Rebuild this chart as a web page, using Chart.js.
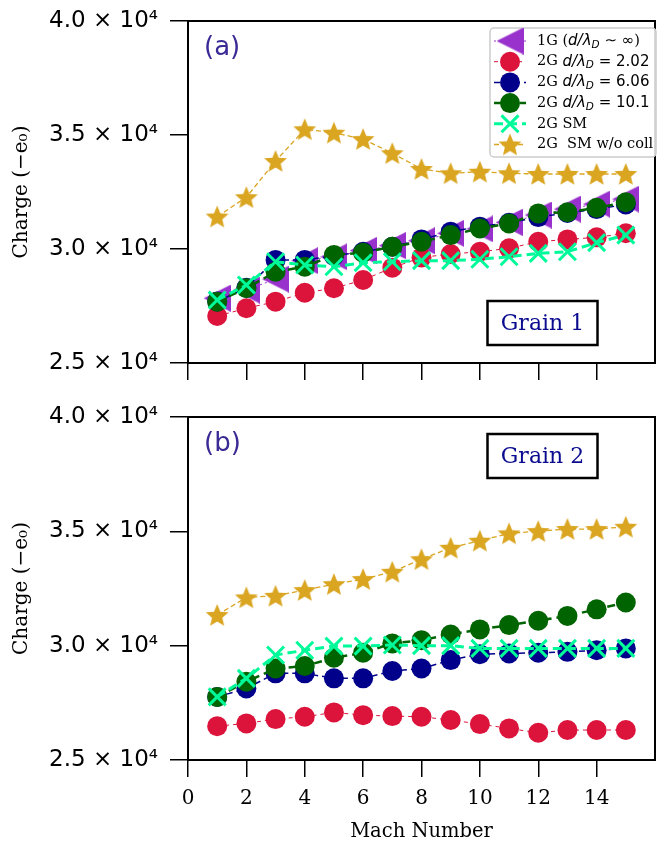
<!DOCTYPE html>
<html>
<head>
<meta charset="utf-8">
<script src="https://cdn.jsdelivr.net/npm/chart.js@4.4.1/dist/chart.umd.min.js"></script>
<style>
  body { margin: 0; background: #fff; width: 670px; height: 844px; position: relative; overflow: hidden; }
  canvas { position: absolute; left: 0; }
  #chartA { top: 0; }
  #chartB { top: 400px; }
</style>
</head>
<body>
<canvas id="chartA" width="670" height="400"></canvas>
<canvas id="chartB" width="670" height="444"></canvas>
<script>
// mach numbers (x)
const mach = [1, 2, 3, 4, 5, 6, 7, 8, 9, 10, 11, 12, 13, 14, 15];
const xTicks = [0, 2, 4, 6, 8, 10, 12, 14];
const yTicks = [25000, 30000, 35000, 40000];

// grain 1 charge (-e0)
const g1_1G   = [27840, 28200, 28680, 29490, 29660, 29930, 30150, 30360, 30690, 30880, 31170, 31490, 31750, 31970, 32190];
const g1_d202 = [27060, 27400, 27690, 28080, 28280, 28640, 29180, 29630, 29780, 29880, 30030, 30320, 30420, 30510, 30690];
const g1_d606 = [27700, 28300, 29520, 29520, 29700, 29880, 30100, 30420, 30760, 30980, 31150, 31400, 31580, 31750, 31950];
const g1_d101 = [27690, 28280, 29000, 29220, 29740, 29840, 30100, 30320, 30610, 30900, 31120, 31560, 31610, 31810, 32050];
const g1_SM   = [27760, 28420, 29440, 29300, 29220, 29400, 29440, 29490, 29490, 29550, 29660, 29810, 29880, 30280, 30610];
const g1_SMnc = [31420, 32270, 33860, 35250, 35100, 34820, 34200, 33510, 33320, 33390, 33320, 33290, 33290, 33290, 33290];

// grain 2 charge (-e0)
const g2_d202 = [26480, 26600, 26790, 26890, 27080, 26960, 26920, 26890, 26750, 26570, 26380, 26190, 26310, 26310, 26310];
const g2_d606 = [27760, 28130, 28790, 28790, 28570, 28570, 28890, 29000, 29370, 29630, 29660, 29690, 29730, 29800, 29880];
const g2_d101 = [27760, 28420, 29000, 29110, 29470, 29690, 30100, 30240, 30490, 30710, 30900, 31090, 31300, 31590, 31890];
const g2_SM   = [27760, 28570, 29590, 29800, 29980, 29980, 30030, 30000, 30000, 29880, 29880, 29880, 29880, 29880, 29880];
const g2_SMnc = [31340, 32110, 32180, 32430, 32690, 32910, 33230, 33780, 34280, 34590, 34910, 35010, 35100, 35100, 35200];

const serif = '"DejaVu Serif", "Liberation Serif", serif';
const sans = '"DejaVu Sans", sans-serif';

function starImg(color, r) {
  const s = Math.ceil(r * 2 + 2);
  const c = document.createElement('canvas');
  c.width = s; c.height = s;
  const g = c.getContext('2d');
  g.fillStyle = color;
  g.beginPath();
  for (let i = 0; i < 10; i++) {
    const rr = i % 2 ? r * 0.45 : r;
    const a = -Math.PI / 2 + i * Math.PI / 5;
    g.lineTo(s / 2 + rr * Math.cos(a), s / 2 + 1 + rr * Math.sin(a));
  }
  g.closePath();
  g.fill();
  return c;
}

function triLeftImg(color, h) {
  const c = document.createElement('canvas');
  c.width = h; c.height = h;
  const g = c.getContext('2d');
  g.fillStyle = color;
  g.beginPath();
  g.moveTo(0, h / 2);
  g.lineTo(h, 0);
  g.lineTo(h, h);
  g.closePath();
  g.fill();
  return c;
}

const starMark = starImg('#daa520', 12);
const triMark = triLeftImg('#9932cc', 27);

function series(label, parts, vals, color, marker, lw, dash, order) {
  const ds = {
    label: label,
    labelParts: parts,
    data: mach.map((m, i) => ({ x: m, y: vals[i] })),
    borderColor: color,
    backgroundColor: color,
    borderWidth: lw,
    borderDash: dash,
    pointBackgroundColor: color,
    pointBorderColor: color,
    order: order,
    marker: marker
  };
  if (marker === 'circle') {
    ds.pointStyle = 'circle'; ds.pointRadius = 10; ds.pointBorderWidth = 0;
  } else if (marker === 'x') {
    ds.pointStyle = 'crossRot'; ds.pointRadius = 12; ds.pointBorderWidth = 3;
  } else if (marker === 'star') {
    ds.pointStyle = starMark; ds.pointRadius = 12;
  } else {
    ds.pointStyle = triMark; ds.pointRadius = 13;
  }
  return ds;
}

const fSerif = '14.5px ' + serif;
const fIt = 'oblique 15px ' + sans;
const fSub = 'oblique 10.5px ' + sans;
const fRm = '15px ' + sans;
function dParts(pre, val) {
  return [[pre, fSerif, 0], ['d/λ', fIt, 0], ['D', fSub, 4], [' = ' + val, fRm, 0]];
}

function panelA() {
  return [
    series('1G (d/λD ~ ∞)', [['1G (', fSerif, 0], ['d/λ', fIt, 0], ['D', fSub, 4], [' ∼ ∞', fRm, 0], [')', fSerif, 0]],
      g1_1G, '#9932cc', 'tri', 1, [2, 3], 6),
    series('2G d/λD = 2.02', dParts('2G ', '2.02'), g1_d202, '#dc143c', 'circle', 1, [4, 4], 5),
    series('2G d/λD = 6.06', dParts('2G ', '6.06'), g1_d606, '#00008b', 'circle', 1.5, [6, 4], 4),
    series('2G d/λD = 10.1', dParts('2G ', '10.1'), g1_d101, '#006400', 'circle', 2.5, [8, 5], 3),
    series('2G SM', [['2G SM', fSerif, 0]], g1_SM, '#00fa9a', 'x', 3, [9, 5], 2),
    series('2G  SM w/o coll', [['2G  SM w/o coll', fSerif, 0]], g1_SMnc, '#daa520', 'star', 1.3, [5, 3], 1)
  ];
}
function panelB() {
  return [
    series('2G d/λD = 2.02', dParts('2G ', '2.02'), g2_d202, '#dc143c', 'circle', 1, [4, 4], 5),
    series('2G d/λD = 6.06', dParts('2G ', '6.06'), g2_d606, '#00008b', 'circle', 1.5, [6, 4], 4),
    series('2G d/λD = 10.1', dParts('2G ', '10.1'), g2_d101, '#006400', 'circle', 2.5, [8, 5], 3),
    series('2G SM', [['2G SM', fSerif, 0]], g2_SM, '#00fa9a', 'x', 3, [9, 5], 2),
    series('2G  SM w/o coll', [['2G  SM w/o coll', fSerif, 0]], g2_SMnc, '#daa520', 'star', 1.3, [5, 3], 1)
  ];
}

function drawMarker(ctx, ds, x, y) {
  if (ds.marker === 'circle') {
    ctx.fillStyle = ds.backgroundColor;
    ctx.beginPath(); ctx.arc(x, y, 10, 0, Math.PI * 2); ctx.fill();
  } else if (ds.marker === 'x') {
    const d = 12 * Math.SQRT1_2;
    ctx.strokeStyle = ds.borderColor; ctx.lineWidth = 3; ctx.setLineDash([]);
    ctx.beginPath();
    ctx.moveTo(x - d, y - d); ctx.lineTo(x + d, y + d);
    ctx.moveTo(x - d, y + d); ctx.lineTo(x + d, y - d);
    ctx.stroke();
  } else {
    const img = ds.pointStyle;
    ctx.drawImage(img, x - img.width / 2, y - img.height / 2);
  }
}

// legend with math-style labels
const richLegend = {
  id: 'richLegend',
  afterDraw(chart, args, o) {
    if (!o.show) return;
    const ctx = chart.ctx;
    ctx.save();
    const bx = 490, by = 28, bw = 166, bh = 129;
    ctx.beginPath();
    ctx.roundRect(bx, by, bw, bh, 4);
    ctx.fillStyle = 'rgba(255,255,255,0.85)';
    ctx.fill();
    ctx.strokeStyle = '#cccccc'; ctx.lineWidth = 1.5;
    ctx.stroke();
    chart.data.datasets.forEach((ds, i) => {
      const y = by + 13 + i * 20.7;
      ctx.strokeStyle = ds.borderColor;
      ctx.lineWidth = ds.borderWidth;
      ctx.setLineDash(ds.borderDash);
      ctx.beginPath(); ctx.moveTo(494, y); ctx.lineTo(526, y); ctx.stroke();
      ctx.setLineDash([]);
      drawMarker(ctx, ds, 510, y);
      let x = 537;
      ctx.fillStyle = '#000';
      ctx.textBaseline = 'middle';
      ctx.textAlign = 'left';
      ds.labelParts.forEach(p => {
        ctx.font = p[1];
        ctx.fillText(p[0], x, y + p[2]);
        x += ctx.measureText(p[0]).width;
      });
    });
    ctx.restore();
  }
};

// frame, panel letter, grain box
const notes = {
  id: 'notes',
  afterDraw(chart, args, o) {
    const ctx = chart.ctx;
    const a = chart.chartArea;
    ctx.save();
    ctx.strokeStyle = '#000';
    ctx.lineWidth = 2;
    ctx.strokeRect(a.left, a.top, a.right - a.left, a.bottom - a.top);
    ctx.fillStyle = '#3a2a96';
    ctx.font = '26px ' + sans;
    ctx.textBaseline = 'middle';
    ctx.textAlign = 'left';
    ctx.fillText(o.panel, a.left + 16, a.top + 27);
    const gx = 487.5, gy = a.top + o.boxTop, gw = 110, gh = 44;
    ctx.fillStyle = '#fff';
    ctx.fillRect(gx, gy, gw, gh);
    ctx.lineWidth = 2.5;
    ctx.strokeRect(gx, gy, gw, gh);
    ctx.fillStyle = '#0b0b8f';
    ctx.font = '22px ' + serif;
    ctx.textAlign = 'center';
    ctx.fillText(o.grain, gx + gw / 2, gy + gh / 2 + 1);
    ctx.restore();
  }
};

function makeChart(id, datasets, cfg) {
  return new Chart(document.getElementById(id), {
    type: 'line',
    data: { datasets: datasets },
    plugins: [notes, richLegend],
    options: {
      responsive: false,
      animation: false,
      layout: { padding: { top: cfg.top, right: 8, left: 0, bottom: 0 } },
      plugins: {
        legend: { display: false },
        tooltip: { enabled: false },
        notes: { panel: cfg.panel, grain: cfg.grain, boxTop: cfg.boxTop },
        richLegend: { show: cfg.legend }
      },
      scales: {
        x: {
          type: 'linear',
          min: 0,
          max: 16,
          afterBuildTicks: s => { s.ticks = xTicks.map(v => ({ value: v })); },
          afterFit: s => { s.height = cfg.xHeight; s.paddingLeft = 0; s.paddingRight = 0; },
          ticks: {
            display: cfg.xLabels,
            color: '#000',
            padding: 10,
            font: { family: serif, size: 20 },
            callback: v => String(v)
          },
          grid: { drawOnChartArea: false, tickLength: 17, color: '#000', lineWidth: 1.5 },
          border: { color: '#000', width: 2 },
          title: {
            display: cfg.xLabels,
            text: 'Mach Number',
            color: '#000',
            font: { family: serif, size: 19.5 },
            padding: { top: 0, bottom: 0 }
          }
        },
        y: {
          min: 25000,
          max: 40000,
          afterBuildTicks: s => { s.ticks = yTicks.map(v => ({ value: v })); },
          afterFit: s => { s.width = 188; s.paddingTop = 0; s.paddingBottom = 0; },
          ticks: {
            color: '#000',
            padding: 12,
            font: { family: sans, size: 23 },
            callback: v => (v / 1e4).toFixed(1) + ' × 10⁴'
          },
          grid: { drawOnChartArea: false, tickLength: 18, color: '#000', lineWidth: 1.5 },
          border: { color: '#000', width: 2 },
          title: {
            display: true,
            text: 'Charge (−e₀)',
            color: '#000',
            font: { family: serif, size: 20 },
            padding: { top: 10, bottom: 0 }
          }
        }
      }
    }
  });
}

makeChart('chartA', panelA(), { top: 21, xHeight: 37, xLabels: false, panel: '(a)', grain: 'Grain 1', boxTop: 280, legend: true });
makeChart('chartB', panelB(), { top: 17, xHeight: 84, xLabels: true, panel: '(b)', grain: 'Grain 2', boxTop: 17, legend: false });
</script>
</body>
</html>
